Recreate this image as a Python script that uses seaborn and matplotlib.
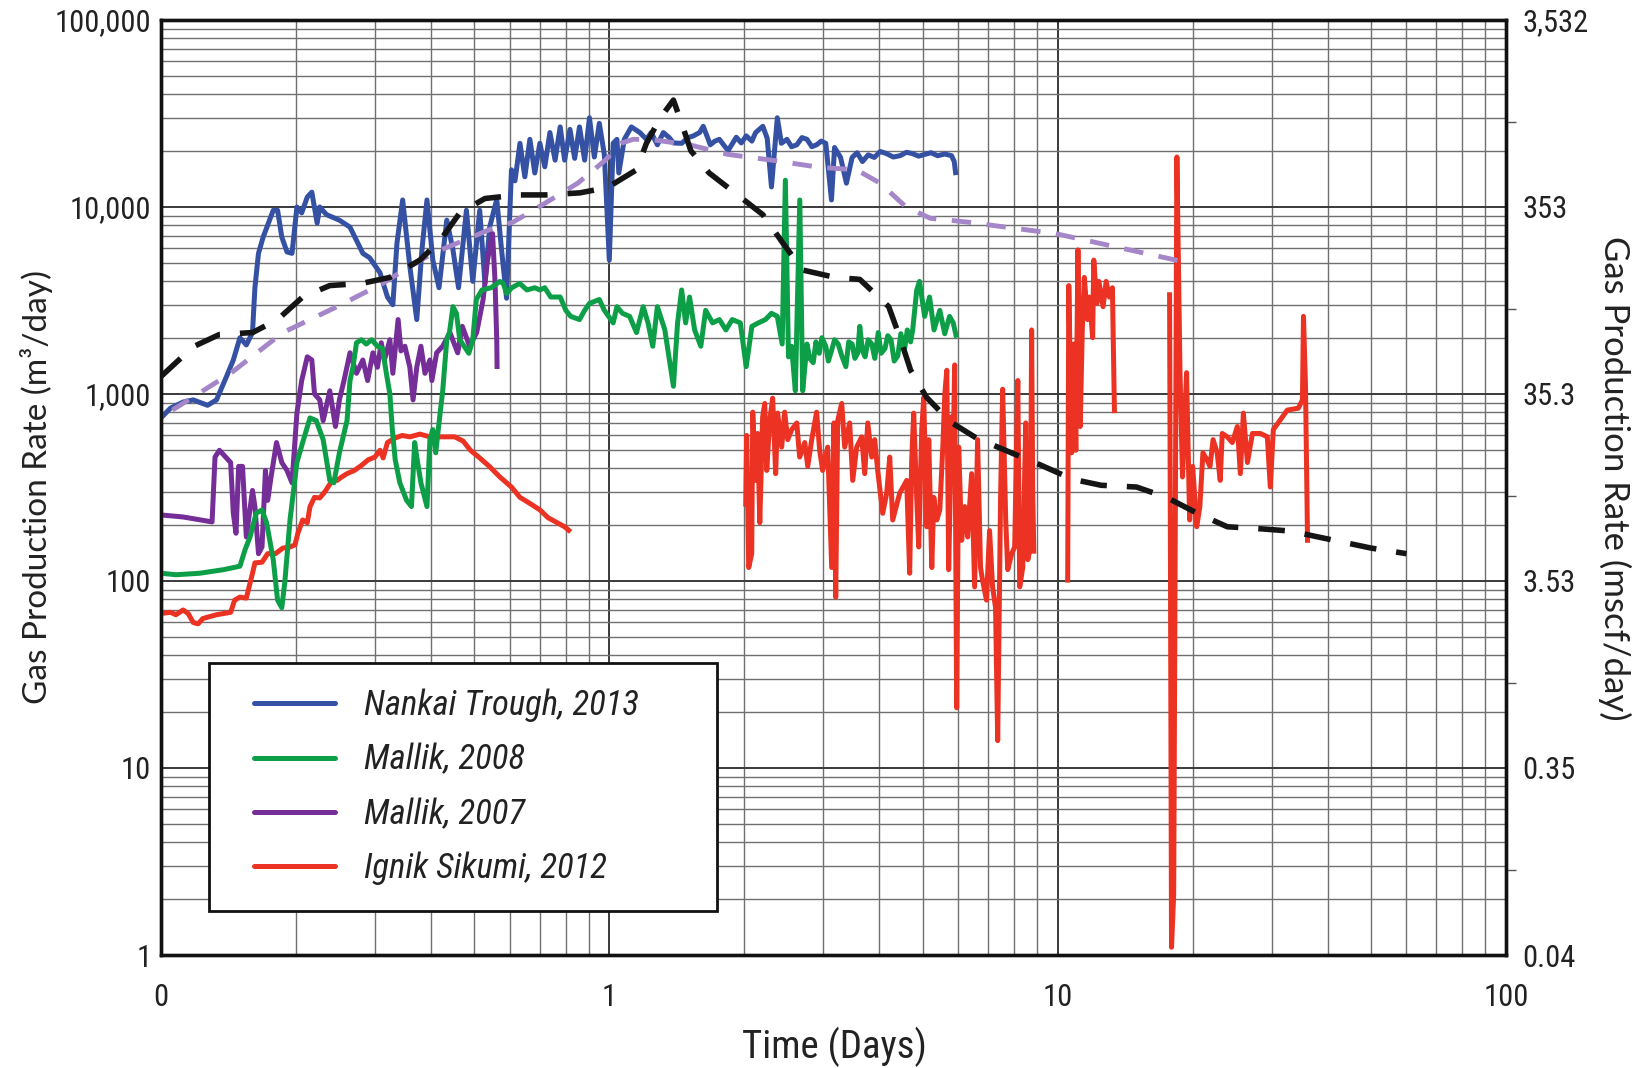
import matplotlib
matplotlib.use("Agg")
import matplotlib.pyplot as plt
from matplotlib import font_manager
from matplotlib.lines import Line2D
from matplotlib.legend_handler import HandlerLine2D
from matplotlib.ticker import FixedLocator, LogLocator, NullFormatter
import seaborn as sns

# ---------------------------------------------------------------- data
# Nankai Trough, 2013 (days, m3/day)
nankai_days = [0.100, 0.105, 0.112, 0.118, 0.127, 0.133, 0.140, 0.145, 0.150, 0.155,
               0.160, 0.162, 0.165, 0.169, 0.178, 0.182, 0.186, 0.191, 0.196, 0.201,
               0.206, 0.212, 0.217, 0.223, 0.226, 0.234, 0.250, 0.264, 0.282, 0.292,
               0.308, 0.320, 0.329, 0.336, 0.346, 0.359, 0.372, 0.382, 0.392, 0.404,
               0.417, 0.434, 0.448, 0.461, 0.480, 0.496, 0.514, 0.528, 0.541, 0.561,
               0.575, 0.590, 0.605, 0.616, 0.632, 0.648, 0.665, 0.682, 0.700, 0.718,
               0.737, 0.757, 0.777, 0.795, 0.817, 0.837, 0.858, 0.881, 0.903, 0.926,
               0.950, 0.975, 1.000, 1.02, 1.04, 1.05, 1.08, 1.12, 1.17, 1.21,
               1.24, 1.28, 1.32, 1.36, 1.39, 1.45, 1.50, 1.54, 1.59, 1.62,
               1.68, 1.72, 1.76, 1.84, 1.92, 1.97, 2.02, 2.08, 2.12, 2.20,
               2.25, 2.30, 2.37, 2.42, 2.49, 2.55, 2.62, 2.69, 2.76, 2.83,
               2.90, 2.97, 3.04, 3.13, 3.18, 3.28, 3.38, 3.48, 3.57, 3.67,
               3.78, 3.90, 4.02, 4.15, 4.30, 4.45, 4.60, 4.74, 4.90, 5.05,
               5.22, 5.40, 5.60, 5.80, 5.88, 5.93]
nankai_rate = [745, 840, 905, 930, 870, 930, 1240, 1520, 2000, 1830,
               2130, 3700, 5650, 6900, 9600, 9600, 6900, 5750, 5650, 10000,
               9300, 11300, 12000, 8200, 10000, 9100, 8500, 7800, 5650, 5350,
               4450, 3300, 3000, 6400, 10900, 4800, 2500, 5900, 10900, 5200,
               3700, 8500, 5900, 3700, 9600, 4000, 9600, 3900, 7800, 11000,
               5900, 3250, 15800, 13800, 21900, 14500, 23000, 15200, 21900, 16400,
               25000, 17800, 26800, 17800, 26000, 18200, 26800, 17800, 30000, 18500,
               28000, 19000, 5200, 21900, 23000, 15200, 23000, 26800, 25000, 23000,
               25000, 21500, 25000, 23500, 22000, 21900, 23500, 24000, 25000, 27000,
               21500, 22500, 23000, 20000, 23600, 22000, 24000, 22500, 25000, 27000,
               23300, 12800, 30000, 21900, 23000, 21000, 21500, 23500, 23000, 21000,
               21500, 22500, 21900, 10900, 20800, 18400, 13400, 18400, 19500, 17500,
               19000, 18400, 19800, 19300, 18500, 18800, 19600, 19300, 18700, 19100,
               19500, 18800, 19200, 18800, 17500, 14800]

# Mallik, 2008
mallik08_days = [0.100, 0.108, 0.122, 0.138, 0.150, 0.154, 0.158, 0.163, 0.168, 0.172,
                 0.178, 0.182, 0.186, 0.189, 0.194, 0.201, 0.207, 0.215, 0.222, 0.230,
                 0.238, 0.243, 0.250, 0.260, 0.264, 0.268, 0.273, 0.280, 0.287, 0.295,
                 0.304, 0.312, 0.318, 0.324, 0.328, 0.333, 0.341, 0.353, 0.362, 0.368,
                 0.372, 0.380, 0.392, 0.398, 0.404, 0.410, 0.417, 0.425, 0.434, 0.440,
                 0.448, 0.456, 0.464, 0.486, 0.496, 0.505, 0.520, 0.545, 0.570, 0.580,
                 0.590, 0.606, 0.631, 0.655, 0.682, 0.700, 0.718, 0.740, 0.777, 0.800,
                 0.820, 0.858, 0.881, 0.903, 0.950, 0.975, 1.02, 1.04, 1.07, 1.11,
                 1.15, 1.19, 1.22, 1.25, 1.28, 1.33, 1.39, 1.42, 1.45, 1.48,
                 1.51, 1.55, 1.60, 1.64, 1.70, 1.76, 1.82, 1.88, 1.96, 2.02,
                 2.08, 2.15, 2.23, 2.30, 2.37, 2.43, 2.47, 2.51, 2.55, 2.60,
                 2.66, 2.70, 2.76, 2.80, 2.85, 2.89, 2.94, 2.98, 3.04, 3.08,
                 3.13, 3.18, 3.24, 3.30, 3.37, 3.42, 3.48, 3.53, 3.58, 3.62,
                 3.67, 3.72, 3.78, 3.85, 3.91, 3.98, 4.04, 4.12, 4.18, 4.25,
                 4.32, 4.40, 4.47, 4.55, 4.62, 4.70, 4.75, 4.85, 4.92, 5.05,
                 5.18, 5.30, 5.46, 5.60, 5.74, 5.85, 5.95]
mallik08_rate = [110, 108, 110, 115, 120, 147, 172, 230, 240, 205,
                 130, 79, 72, 100, 212, 430, 550, 745, 720, 570,
                 345, 335, 485, 720, 1180, 1390, 1880, 1950, 1850, 1950,
                 1800, 1750, 1300, 1000, 650, 445, 335, 270, 250, 550,
                 460, 335, 250, 570, 645, 485, 700, 1040, 1950, 2130,
                 2930, 2700, 1950, 1650, 1950, 3200, 3600, 3700, 4000, 3900,
                 3450, 3700, 3900, 3600, 3700, 3600, 3700, 3300, 3300, 2800,
                 2600, 2500, 2800, 3050, 3200, 2800, 2400, 2930, 2700, 2600,
                 2130, 2930, 2400, 1800, 2930, 2200, 1100, 2400, 3600, 2400,
                 3300, 2200, 1800, 2800, 2400, 2500, 2200, 2500, 2400, 1400,
                 2300, 2400, 2500, 2700, 2600, 1850, 13900, 1580, 1800, 1040,
                 10900, 1040, 1850, 1550, 1470, 1900, 1650, 2000, 1800, 1500,
                 1700, 1950, 1850, 1600, 1400, 1900, 1850, 1550, 1650, 2300,
                 1700, 1580, 1950, 1850, 1550, 2130, 1650, 1750, 2050, 1950,
                 1500, 1600, 2100, 1700, 2200, 1900, 2200, 3600, 4000, 2600,
                 3300, 2200, 2800, 2100, 2600, 2400, 2000]

# Mallik, 2007
mallik07_days = [0.101, 0.112, 0.130, 0.132, 0.135, 0.143, 0.145, 0.147, 0.149, 0.152,
                 0.155, 0.160, 0.162, 0.165, 0.168, 0.171, 0.173, 0.176, 0.181, 0.186,
                 0.191, 0.196, 0.201, 0.206, 0.212, 0.217, 0.220, 0.226, 0.230, 0.238,
                 0.245, 0.250, 0.256, 0.264, 0.273, 0.282, 0.289, 0.297, 0.304, 0.310,
                 0.315, 0.324, 0.329, 0.338, 0.343, 0.350, 0.359, 0.365, 0.372, 0.380,
                 0.388, 0.398, 0.402, 0.412, 0.425, 0.441, 0.459, 0.470, 0.488, 0.506,
                 0.523, 0.535, 0.549, 0.556, 0.561, 0.562]
mallik07_rate = [225, 220, 207, 460, 500, 430, 230, 180, 410, 410,
                 172, 305, 250, 140, 152, 390, 270, 360, 550, 430,
                 390, 335, 790, 1180, 1580, 1520, 1000, 930, 720, 1040,
                 670, 930, 1180, 1660, 1290, 1520, 1180, 1660, 1390, 1880,
                 1520, 1950, 1290, 2500, 1700, 1800, 1390, 930, 1390, 1800,
                 1290, 1520, 1180, 1660, 1800, 2130, 1660, 2300, 1800, 2130,
                 3200, 5200, 7200, 4000, 1950, 1360]

# Ignik Sikumi, 2012 (four recorded intervals)
ignik_days_1 = [0.100, 0.105, 0.108, 0.112, 0.115, 0.118, 0.121, 0.124, 0.133, 0.143,
                0.146, 0.150, 0.155, 0.160, 0.162, 0.168, 0.173, 0.180, 0.187, 0.194,
                0.199, 0.202, 0.207, 0.212, 0.215, 0.220, 0.226, 0.232, 0.241, 0.247,
                0.253, 0.260, 0.270, 0.280, 0.290, 0.300, 0.308, 0.313, 0.320, 0.332,
                0.345, 0.359, 0.378, 0.398, 0.425, 0.452, 0.472, 0.490, 0.514, 0.540,
                0.570, 0.605, 0.632, 0.665, 0.700, 0.730, 0.765, 0.795, 0.820]
ignik_rate_1 = [67, 68, 66, 70, 67, 60, 59, 63, 66, 68,
                79, 82, 81, 110, 125, 126, 140, 140, 150, 152,
                156, 180, 212, 205, 250, 280, 278, 300, 345, 345,
                360, 375, 390, 415, 445, 460, 500, 455, 550, 580,
                600, 590, 610, 590, 590, 590, 560, 500, 455, 410,
                360, 318, 280, 260, 240, 218, 205, 195, 183]

ignik_days_2 = [2.015, 2.025, 2.046, 2.078, 2.089, 2.122, 2.143, 2.166, 2.198, 2.222,
                2.245, 2.279, 2.314, 2.350, 2.374, 2.424, 2.461, 2.500, 2.552, 2.619,
                2.658, 2.729, 2.771, 2.828, 2.900, 2.946, 2.991, 3.070, 3.134, 3.170,
                3.199, 3.232, 3.299, 3.350, 3.437, 3.491, 3.563, 3.656, 3.713, 3.771,
                3.849, 3.908, 3.969, 4.072, 4.157, 4.222, 4.287, 4.444, 4.606, 4.677,
                4.726, 4.775, 4.849, 4.900, 4.976, 5.028, 5.106, 5.159, 5.240, 5.294,
                5.376, 5.460, 5.545, 5.602, 5.660, 5.715, 5.804, 5.834, 5.893, 5.954,
                6.016, 6.109, 6.204, 6.300, 6.430, 6.530, 6.630, 6.730, 6.800, 6.940,
                7.050, 7.160, 7.270, 7.350, 7.460, 7.540, 7.660, 7.740, 7.900, 8.020,
                8.150, 8.230, 8.360, 8.490, 8.580, 8.700, 8.750, 8.800, 8.850]
ignik_rate_2 = [250, 600, 118, 140, 800, 345, 615, 205, 755, 890,
                390, 720, 950, 375, 790, 520, 800, 570, 645, 700,
                460, 550, 410, 570, 800, 500, 390, 520, 118, 700,
                82, 720, 890, 520, 700, 345, 520, 590, 375, 700,
                460, 570, 390, 230, 295, 460, 212, 295, 345, 110,
                445, 790, 280, 152, 645, 960, 195, 570, 118, 280,
                212, 240, 520, 1000, 1340, 115, 755, 345, 1430, 21,
                520, 165, 250, 172, 375, 93, 570, 118, 101, 79,
                186, 93, 72, 14, 280, 1060, 212, 115, 140, 152,
                1180, 93, 118, 700, 130, 152, 2200, 300, 140]

ignik_days_3 = [10.53, 10.59, 10.75, 10.87, 10.98, 11.10, 11.23, 11.35, 11.47, 11.66,
                11.78, 11.97, 12.04, 12.23, 12.36, 12.63, 12.83, 13.04, 13.25, 13.39]
ignik_rate_3 = [98, 3800, 485, 1850, 500, 5900, 670, 2200, 4200, 2500,
                3300, 2000, 5200, 3050, 4000, 2930, 4000, 3300, 3700, 790]

ignik_days_4 = [17.77, 17.85, 17.95, 18.15, 18.45, 18.75, 18.99, 19.39, 19.70, 20.01,
                20.43, 20.76, 21.09, 21.53, 21.87, 22.22, 22.69, 23.05, 23.29, 23.90,
                24.52, 25.17, 25.56, 25.96, 26.51, 27.20, 28.33, 29.36, 29.81, 30.28,
                32.53, 34.44, 35.16, 35.35, 35.72, 36.10]
ignik_rate_4 = [3500, 130, 1.1, 2.1, 18500, 1300, 360, 1300, 212, 410,
                195, 250, 485, 445, 410, 570, 485, 345, 615, 590,
                550, 670, 375, 790, 430, 615, 615, 590, 318, 645,
                820, 840, 930, 2600, 1100, 160]

# dashed curves
purple_trend_days = [0.106, 0.143, 0.187, 0.247, 0.312, 0.359, 0.404, 0.550, 0.610, 0.720,
                     0.850, 0.980, 1.06, 1.13, 1.23, 1.51, 1.84, 2.30, 2.94, 3.56,
                     4.02, 4.59, 5.20, 6.30, 9.90, 19.4, 20.0]
purple_trend_rate = [820, 1290, 2130, 2930, 3900, 4800, 5650, 7700, 8300, 10500,
                     13400, 17800, 21900, 23000, 23000, 21500, 19100, 17800, 16300, 15800,
                     13400, 10000, 8700, 8300, 7200, 5050, 4980]

black_trend_days = [0.100, 0.118, 0.135, 0.160, 0.182, 0.207, 0.238, 0.280, 0.324, 0.378,
                    0.419, 0.464, 0.528, 0.625, 0.720, 0.860, 0.990, 1.15, 1.21, 1.30,
                    1.39, 1.45, 1.52, 1.67, 1.96, 2.20, 2.44, 2.70, 3.19, 3.62,
                    4.20, 4.45, 4.70, 5.10, 5.76, 6.60, 7.80, 9.10, 10.8, 12.5,
                    15.0, 17.5, 20.5, 23.9, 28.5, 33.0, 39.0, 50.0, 60.0]
black_trend_rate = [1240, 1790, 2080, 2130, 2500, 3300, 3800, 3900, 4200, 5200,
                    6600, 9300, 11100, 11600, 11600, 11900, 12700, 15800, 21900, 30000,
                    37300, 28000, 20000, 15200, 11300, 9100, 6400, 4600, 4200, 4100,
                    2930, 2000, 1340, 960, 710, 580, 490, 420, 350, 325,
                    318, 280, 230, 195, 190, 185, 170, 150, 140]

# axes annotation
legend_labels = ["Nankai Trough, 2013", "Mallik, 2008", "Mallik, 2007", "Ignik Sikumi, 2012"]
x_ticks = [0.1, 1, 10, 100]
x_tick_labels = ["0", "1", "10", "100"]
y_ticks = [1, 10, 100, 1000, 10000, 100000]
y_tick_labels = ["1", "10", "100", "1,000", "10,000", "100,000"]
right_tick_labels = ["0.04", "0.35", "3.53", "35.3", "353", "3,532"]
mscf_marks = [0.1, 1, 10, 100, 1000]          # mscf/day marks on the right side
M3_PER_MSCF = 28.3168

# ---------------------------------------------------------------- style
sns.set_theme(style="white")
names = {f.name for f in font_manager.fontManager.ttflist}


def pick(*cands):
    for c in cands:
        if c in names:
            return c
    return "DejaVu Sans"


NARROW = pick("Liberation Sans Narrow", "Roboto Condensed", "DejaVu Sans")
ROUND = pick("Lato", "Open Sans", "DejaVu Sans")
plt.rcParams["font.family"] = [NARROW, "DejaVu Sans"]

BLUE = "#3451a3"
GREEN = "#0c9f48"
PURPLE = "#752d98"
RED = "#ec3323"
LILAC = "#a586c9"
LW = 3.6

fig = plt.figure(figsize=(16.41, 10.68), dpi=100)
ax = fig.add_axes([0.0981, 0.1058, 0.8196, 0.8755])
ax.set_xscale("log")
ax.set_yscale("log")


def draw(days, rate, color, lw=LW, z=3):
    sns.lineplot(x=days, y=rate, ax=ax, color=color, linewidth=lw, sort=False,
                 estimator=None, legend=False, zorder=z)
    line = ax.lines[-1]
    line.set_solid_joinstyle("round")
    line.set_solid_capstyle("butt")
    return line


draw(nankai_days, nankai_rate, BLUE)
draw(mallik07_days, mallik07_rate, PURPLE)
draw(ignik_days_1, ignik_rate_1, RED)
draw(mallik08_days, mallik08_rate, GREEN)
for d, r in [(ignik_days_2, ignik_rate_2), (ignik_days_3, ignik_rate_3),
             (ignik_days_4, ignik_rate_4)]:
    draw(d, r, RED)

lil = draw(purple_trend_days, purple_trend_rate, LILAC, lw=3.5, z=4)
lil.set_dashes([4.0, 3.2])
blk = draw(black_trend_days, black_trend_rate, "#151515", lw=4.0, z=5)
blk.set_dashes([4.8, 3.6])

# ---------------------------------------------------------------- axes
ax.set_xlim(0.1, 100)
ax.set_ylim(1, 100000)
ax.xaxis.set_major_locator(FixedLocator(x_ticks))
ax.set_xticklabels(x_tick_labels)
ax.yaxis.set_major_locator(FixedLocator(y_ticks))
ax.set_yticklabels(y_tick_labels)
for axis in (ax.xaxis, ax.yaxis):
    axis.set_minor_locator(LogLocator(base=10, subs=range(2, 10), numticks=20))
    axis.set_minor_formatter(NullFormatter())
ax.tick_params(which="both", length=0)
ax.tick_params(axis="x", which="major", pad=20, labelsize=22, labelcolor="#222")
ax.tick_params(axis="y", which="major", pad=7, labelsize=22, labelcolor="#222")
ax.grid(which="major", color="#3a3a3a", linewidth=1.4)
ax.grid(which="minor", color="#707070", linewidth=1.0)
ax.set_axisbelow(True)
for s in ax.spines.values():
    s.set_color("#111")
    s.set_linewidth(2.4)

ax.set_xlabel("Time (Days)", fontsize=28, color="#222", va="center")
ax.xaxis.set_label_coords(0.501, -0.0984)
ax.set_ylabel("Gas Production Rate (m\u00b3/day)", fontsize=24, family=ROUND,
              color="#222", va="center")
ax.yaxis.set_label_coords(-0.0922, 0.5)

ax2 = ax.twinx()
ax2.set_yscale("log")
ax2.set_ylim(1, 100000)
ax2.yaxis.set_major_locator(FixedLocator(y_ticks))
ax2.set_yticklabels(right_tick_labels)
ax2.yaxis.set_minor_locator(FixedLocator([m * M3_PER_MSCF for m in mscf_marks]))
ax2.yaxis.set_minor_formatter(NullFormatter())
ax2.tick_params(axis="y", which="major", length=0, pad=12, labelsize=22, labelcolor="#222")
ax2.tick_params(axis="y", which="minor", length=7, width=1.0, color="#555",
                direction="out")
for s in ax2.spines.values():
    s.set_color("#111")
    s.set_linewidth(2.4)
ax2.set_ylabel("Gas Production Rate (mscf/day)", fontsize=25, family=ROUND,
               color="#222", rotation=270, va="center")
ax2.yaxis.set_label_coords(1.081, 0.51)

# ---------------------------------------------------------------- legend
handles = [Line2D([], [], color=c, linewidth=3.6) for c in (BLUE, GREEN, PURPLE, RED)]
leg = ax.legend(handles, legend_labels, loc="lower left",
                bbox_to_anchor=(0.0357, 0.047, 0.3777, 0.266), mode="expand",
                prop={"family": [NARROW, "DejaVu Sans"], "style": "italic", "size": 25},
                frameon=True, fancybox=False, framealpha=1.0, edgecolor="#111",
                borderpad=0.74, labelspacing=0.6, handlelength=3.45,
                handletextpad=0.28, borderaxespad=0.0,
                handler_map={h: HandlerLine2D(numpoints=2, marker_pad=0.57) for h in handles})
leg.get_frame().set_linewidth(2.0)
for t in leg.get_texts():
    t.set_color("#222")
leg.set_zorder(10)

fig.savefig("out.png", dpi=100, facecolor="white")
